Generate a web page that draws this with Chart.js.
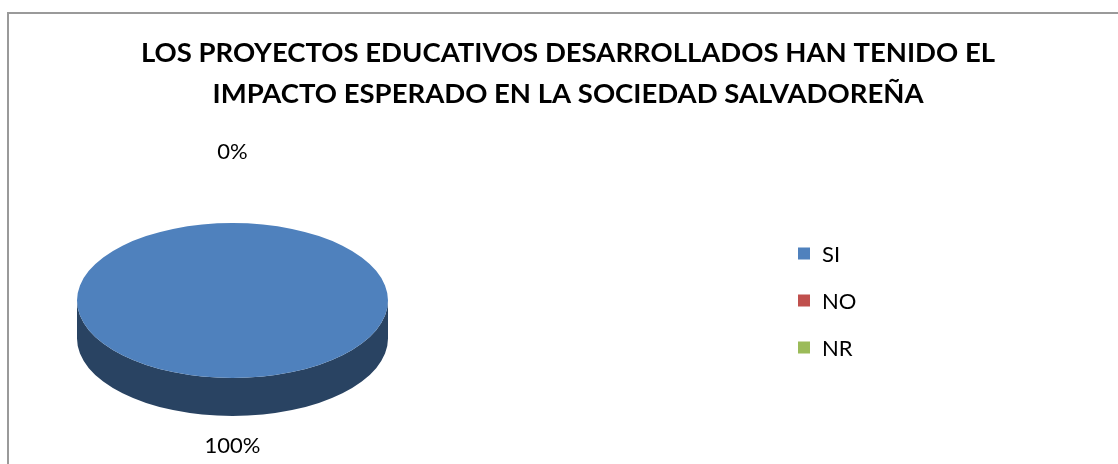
<!DOCTYPE html>
<html>
<head>
<meta charset="utf-8">
<script src="https://cdn.jsdelivr.net/npm/chart.js@4.4.1/dist/chart.umd.min.js"></script>
<style>
  html, body { margin: 0; padding: 0; background: #ffffff; }
  #wrap { width: 1118px; height: 464px; position: relative; }
  canvas { display: block; }
</style>
</head>
<body>
<div id="wrap"><canvas id="c" width="1118" height="464"></canvas></div>
<script>
// ---- data ----
const categories = ['SI', 'NO', 'NR'];
const values = [100, 0, 0];
const titleLines = ['LOS PROYECTOS EDUCATIVOS DESARROLLADOS HAN TENIDO EL', 'IMPACTO ESPERADO EN LA SOCIEDAD SALVADOREÑA'];

// ---- styles / geometry ----
const sliceColors = ['#4f81bd', '#c0504d', '#9bbb59'];
const FONT = 'Lato, "Open Sans", "Liberation Sans", sans-serif';
const PIE = { cx: 232.5, cy: 300.5, rx: 155.5, ry: 77.5, depth: 38 };
const LABEL_GAP_TOP = 71, LABEL_GAP_BOTTOM = 30;
const LEGEND = { x: 798, y0: 253.5, step: 47, box: 12, textX: 822 };

function darken(hex, f) {
  const n = parseInt(hex.slice(1), 16);
  const r = Math.round(((n >> 16) & 255) * f), g = Math.round(((n >> 8) & 255) * f), b = Math.round((n & 255) * f);
  return 'rgb(' + r + ',' + g + ',' + b + ')';
}

// visible (front) segments of an arc range, angles in canvas convention (positive = down)
function frontSegments(a0, a1) {
  const segs = [];
  for (let k = -2; k <= 2; k++) {
    const lo = Math.max(a0, k * 2 * Math.PI), hi = Math.min(a1, k * 2 * Math.PI + Math.PI);
    if (hi > lo) segs.push([lo, hi]);
  }
  return segs;
}

const pie3d = {
  id: 'pie3d',
  beforeDraw(chart) {
    const ctx = chart.ctx;
    ctx.save();
    ctx.fillStyle = '#ffffff';
    ctx.fillRect(0, 0, chart.width, chart.height);
    ctx.strokeStyle = '#9a9a9a';
    ctx.lineWidth = 2;
    ctx.beginPath();
    ctx.moveTo(8, 464);
    ctx.lineTo(8, 13);
    ctx.lineTo(1118, 13);
    ctx.stroke();
    ctx.restore();
  },
  beforeDatasetsDraw(chart) {
    const ctx = chart.ctx;
    const meta = chart.getDatasetMeta(0);
    const bg = chart.data.datasets[0].backgroundColor;
    // side walls
    meta.data.forEach((arc, i) => {
      const p = arc.getProps(['startAngle', 'endAngle'], true);
      if (p.endAngle - p.startAngle <= 0) return;
      frontSegments(p.startAngle, p.endAngle).forEach(([a0, a1]) => {
        ctx.save();
        ctx.fillStyle = darken(bg[i], 0.52);
        ctx.beginPath();
        ctx.ellipse(PIE.cx, PIE.cy, PIE.rx, PIE.ry, 0, a0, a1, false);
        ctx.ellipse(PIE.cx, PIE.cy + PIE.depth, PIE.rx, PIE.ry, 0, a1, a0, true);
        ctx.closePath();
        ctx.fill();
        ctx.restore();
      });
    });
    // squash the library-drawn pie into an ellipse
    const a = meta.data[0];
    const r = a.outerRadius;
    ctx.save();
    ctx.translate(PIE.cx, PIE.cy);
    ctx.scale(PIE.rx / r, PIE.ry / r);
    ctx.translate(-a.x, -a.y);
  },
  afterDatasetsDraw(chart) {
    const ctx = chart.ctx;
    ctx.restore();
    const meta = chart.getDatasetMeta(0);
    const data = chart.data.datasets[0].data;
    const total = data.reduce((s, v) => s + v, 0);
    const seen = {};
    ctx.save();
    ctx.font = '22px ' + FONT;
    ctx.fillStyle = '#000000';
    ctx.textAlign = 'center';
    ctx.textBaseline = 'middle';
    meta.data.forEach((arc, i) => {
      const mid = (arc.startAngle + arc.endAngle) / 2;
      const s = Math.sin(mid), c = Math.cos(mid);
      const gap = s > 0 ? LABEL_GAP_BOTTOM : LABEL_GAP_TOP;
      const x = PIE.cx + c * (PIE.rx + gap);
      const y = PIE.cy + s * (PIE.ry + gap) + (s > 0 ? PIE.depth : 0);
      const txt = Math.round(data[i] / total * 100) + '%';
      const key = Math.round(x) + ',' + Math.round(y) + txt;
      if (seen[key]) return;
      seen[key] = true;
      ctx.fillText(txt, x, y);
    });
    // legend
    chart.data.labels.forEach((lab, i) => {
      const y = LEGEND.y0 + i * LEGEND.step;
      ctx.fillStyle = chart.data.datasets[0].backgroundColor[i];
      ctx.fillRect(LEGEND.x, y - LEGEND.box / 2, LEGEND.box, LEGEND.box);
      ctx.fillStyle = '#000000';
      ctx.textAlign = 'left';
      ctx.fillText(lab, LEGEND.textX, y + 1);
    });
    ctx.restore();
  }
};

new Chart(document.getElementById('c'), {
  type: 'pie',
  data: {
    labels: categories,
    datasets: [{
      data: values,
      backgroundColor: sliceColors,
      borderWidth: 0
    }]
  },
  options: {
    responsive: false,
    devicePixelRatio: 1,
    animation: false,
    layout: { padding: { left: 18, right: 0, top: 0, bottom: 0 } },
    plugins: {
      legend: { display: false },
      tooltip: { enabled: false },
      title: {
        display: true,
        text: titleLines,
        color: '#000000',
        font: { family: FONT, size: 27.5, weight: 'bold', lineHeight: 1.49 },
        padding: { top: 33, bottom: 10 }
      }
    }
  },
  plugins: [pie3d]
});
</script>
</body>
</html>
